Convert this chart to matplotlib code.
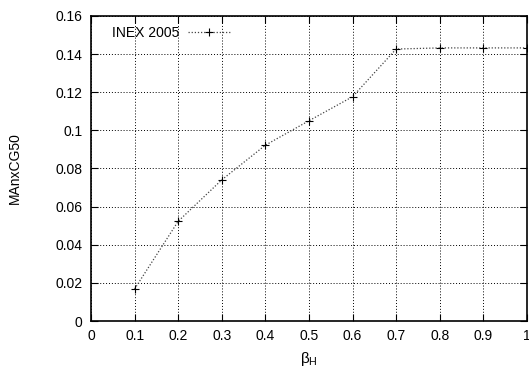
import numpy as np
import matplotlib.pyplot as plt

plt.rcParams['font.family'] = ['Liberation Sans', 'DejaVu Sans']

beta = [0.1, 0.2, 0.3, 0.4, 0.5, 0.6, 0.7, 0.8, 0.9, 1.0]
manxcg50 = [0.0168, 0.0523, 0.0740, 0.0922, 0.1050, 0.1176, 0.1426, 0.1432, 0.1432, 0.1432]
xticks = np.round(np.arange(0, 1.01, 0.1), 1)
yticks = np.round(np.arange(0, 0.161, 0.02), 2)

fig = plt.figure(figsize=(5.29, 3.69), dpi=100)
ax = fig.add_axes([0.172, 0.130, 0.824, 0.827])

ax.plot(beta, manxcg50, color='#444444', linestyle=(0, (1, 1.5)), linewidth=0.9,
        marker='+', markersize=6, markeredgecolor='black', markeredgewidth=0.8,
        label='INEX 2005')

ax.set_xlim(0, 1)
ax.set_ylim(0, 0.16)
ax.set_xticks(xticks)
ax.set_xticklabels([f'{t:g}' for t in xticks])
ax.set_yticks(yticks)
ax.set_yticklabels([f'{t:g}' for t in yticks])
ax.tick_params(direction='in', top=True, right=True, length=5, labelsize=10, pad=6)
ax.grid(True, color='black', linestyle=(0, (1, 2)), linewidth=0.7)
for s in ax.spines.values():
    s.set_linewidth(1.2)

ax.set_xlabel(r'$\mathregular{\beta_H}$', fontsize=11, labelpad=5)
ax.set_ylabel('MAnxCG50', fontsize=10, labelpad=24)

leg = ax.legend(loc='upper left', bbox_to_anchor=(0.025, 1.0), frameon=False,
                fontsize=10, handlelength=3.0, handletextpad=0.65,
                borderaxespad=0.3, markerfirst=False)

fig.savefig('out.png', dpi=100)
